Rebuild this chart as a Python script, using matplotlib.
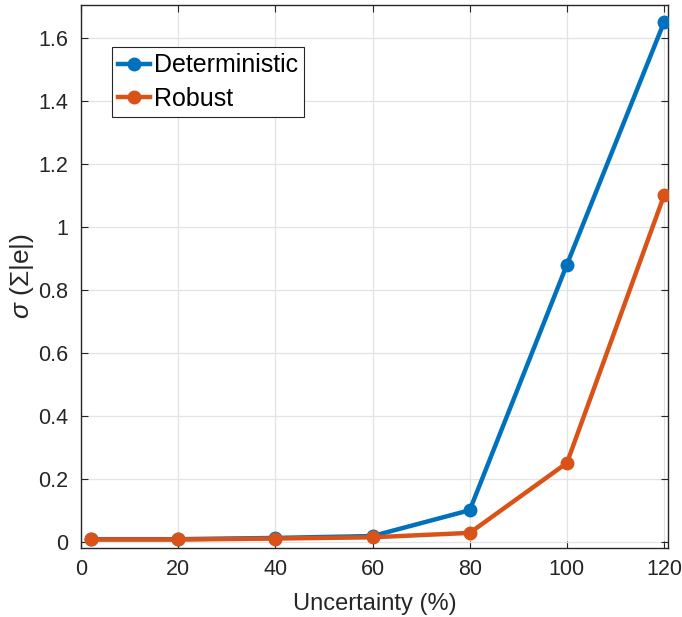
import matplotlib
matplotlib.use("Agg")
import matplotlib.pyplot as plt

plt.rcParams['font.family'] = ['Liberation Sans', 'DejaVu Sans']
plt.rcParams['mathtext.fontset'] = 'custom'
plt.rcParams['mathtext.rm'] = 'Liberation Sans'
plt.rcParams['mathtext.it'] = 'Liberation Sans:italic'

uncertainty = [2, 20, 40, 60, 80, 100, 120]
deterministic = [0.008, 0.008, 0.012, 0.018, 0.10, 0.88, 1.65]
robust = [0.007, 0.007, 0.010, 0.014, 0.028, 0.25, 1.10]
xticks = [0, 20, 40, 60, 80, 100, 120]
yticks = [0, 0.2, 0.4, 0.6, 0.8, 1.0, 1.2, 1.4, 1.6]
ytick_labels = ['0', '0.2', '0.4', '0.6', '0.8', '1', '1.2', '1.4', '1.6']

fig = plt.figure(figsize=(6.82, 6.17), dpi=100)
ax = fig.add_axes([81/682, 1-548/617, (668-81)/682, (548-5)/617])

ax.plot(uncertainty, deterministic, '-o', color='#0072BD', lw=3.2, ms=9, label='Deterministic', zorder=3)
ax.plot(uncertainty, robust, '-o', color='#D95319', lw=3.2, ms=9, label='Robust', zorder=3)

ax.set_xlim(0, 120.8)
ax.set_ylim(-0.02, 1.704)
ax.set_xticks(xticks)
ax.set_yticks(yticks)
ax.set_yticklabels(ytick_labels)
ax.grid(True, color='#e3e3e3', lw=0.9)
ax.set_axisbelow(True)
ax.tick_params(direction='in', top=True, right=True, labelsize=15.5, colors='#262626', length=5)
ax.tick_params(axis='x', pad=8)
ax.tick_params(axis='y', pad=9)
for s in ax.spines.values():
    s.set_color('#262626')
    s.set_linewidth(1.0)

ax.set_xlabel('Uncertainty (%)', fontsize=17, color='#262626', labelpad=9)
ax.set_ylabel(r'$\sigma$ ($\Sigma$|e|)', fontsize=19, color='#262626', labelpad=2)

leg = ax.legend(loc='upper left', bbox_to_anchor=((112-81)/587, 1-(47-5)/543), fontsize=18,
                frameon=True, fancybox=False, edgecolor='#262626', framealpha=1,
                handlelength=1.25, handletextpad=0.16, borderpad=0.25, labelspacing=0.38,
                borderaxespad=0, handleheight=0.7)
leg.get_frame().set_linewidth(0.8)

fig.savefig('out.png', dpi=100)
